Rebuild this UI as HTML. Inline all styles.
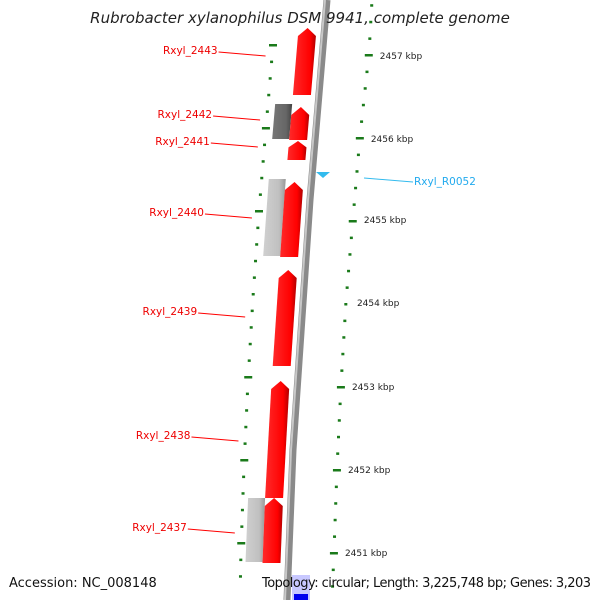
<!DOCTYPE html>
<html><head><meta charset="utf-8"><style>
body{margin:0;background:#fff}
svg{display:block;font-family:"DejaVu Sans","Liberation Sans",sans-serif}
</style></head><body>
<svg id="map" width="600" height="600" viewBox="0 0 600 600" xmlns="http://www.w3.org/2000/svg">
<defs>
<linearGradient id="red" x1="0" x2="1"><stop offset="0" stop-color="#ff2a2a"/><stop offset="0.75" stop-color="#ff0000"/><stop offset="1" stop-color="#b00000"/></linearGradient>
<linearGradient id="dg" x1="0" x2="1"><stop offset="0" stop-color="#777"/><stop offset="0.7" stop-color="#666"/><stop offset="1" stop-color="#444"/></linearGradient>
<linearGradient id="lg" x1="0" x2="1"><stop offset="0" stop-color="#d0d0d0"/><stop offset="0.7" stop-color="#c0c0c0"/><stop offset="1" stop-color="#999"/></linearGradient>
</defs>
<g id="tracks"></g>
<g id="genes"></g>
<text x="300" y="23" text-anchor="middle" font-size="15" font-style="italic" fill="#222">Rubrobacter xylanophilus DSM 9941, complete genome</text>
<text x="9" y="587" font-size="13" fill="#111">Accession: NC_008148</text>
<text x="262" y="587" font-size="13" fill="#111" textLength="329">Topology: circular; Length: 3,225,748 bp; Genes: 3,203</text>
</svg>
<script>
const geneNames=["Rxyl_2443","Rxyl_2442","Rxyl_2441","Rxyl_2440","Rxyl_2439","Rxyl_2438","Rxyl_2437"];
const geneTop=[28,107,141,182,270,381,498];
const geneBottom=[95,140,160,257,366,498,563];
const geneLabelY=[50,114,141,212,311,435,527];
const otherTop=[104,179,498];
const otherBottom=[139,256,562];
const otherShade=["dg","lg","lg"];
const kbpLabels=[2457,2456,2455,2454,2453,2452,2451];
const kbpY=[55,138,219,302,386,469,552];
const NS="http://www.w3.org/2000/svg";
function interp(pts,y){for(let i=0;i<pts.length-1;i++){if(y<=pts[i+1][0]||i==pts.length-2){const [y0,x0]=pts[i],[y1,x1]=pts[i+1];return x0+(x1-x0)*(y-y0)/(y1-y0);}}}
const bb=[[0,327],[200,310],[450,293],[600,287]];
const outer=[[0,372],[53,369],[136,360],[218,353],[301,346],[385,341],[468,337],[551,334],[600,332]];
const inner=[[0,277],[45,273],[127,266],[211,259],[297,253],[381,248],[466,244],[550,241],[600,240]];
const bx=y=>interp(bb,y);
function mk(tag,attrs,parent){const e=document.createElementNS(NS,tag);for(const k in attrs)e.setAttribute(k,attrs[k]);parent.appendChild(e);return e;}
const T=document.getElementById('tracks'),G=document.getElementById('genes');
// backbone
let d="";for(let y=0;y<=600;y+=10)d+=(y?"L":"M")+bx(y)+","+y;
const bl=mk('path',{d:d,stroke:'#8a8a8a','stroke-width':7,fill:'none'},T);


let d2="";for(let y=0;y<=600;y+=10)d2+=(y?"L":"M")+(bx(y)-2)+","+y;
mk('path',{d:d2,stroke:'#c8c8c8','stroke-width':2,fill:'none'},T);
// tick tracks
const step=(kbpY[1]-kbpY[0])/5;
for(let i=-1;i<kbpY.length*5+5;i++){
  const y=kbpY[0]+ (i)*step*(-1)*(-1);
  const yy=kbpY[0]-step*3+i*step;
  if(yy<0||yy>600)continue;
  const major=Math.abs(((yy-kbpY[0])/step)%5)<0.01;
  const ox=interp(outer,yy);
  const t=mk('rect',{x:ox-(major?4:1.5),y:yy-1,width:major?8:3,height:2.5,fill:'#1a7a1a'},T);
  
  
  const iy=yy-10;
  if(iy>30&&iy<600){const ix=interp(inner,iy);
  const t2=mk('rect',{x:ix-(major?4:1.5),y:iy-1,width:major?8:3,height:2.5,fill:'#1a7a1a'},T);
  
  }
}
kbpLabels.forEach((k,i)=>{const tx=mk('text',{x:interp(outer,kbpY[i])+11,y:kbpY[i]+4,'font-size':9,fill:'#222'},T);tx.textContent=k+" kbp";

});
// other strand genes
otherTop.forEach((t,i)=>{const b=otherBottom[i];
 const p=`${bx(t)-43},${t} ${bx(t)-26},${t} ${bx(b)-26},${b} ${bx(b)-43},${b}`;
 const g=mk('polygon',{points:p,fill:`url(#${otherShade[i]})`},G);
 
 });
// forward genes
geneTop.forEach((t,i)=>{const b=geneBottom[i];const h=Math.min(8,(b-t)/3);
 const l1=bx(t+h)-26,r1=bx(t+h)-8,l2=bx(b)-26,r2=bx(b)-8,mx=(bx(t)-17);
 const p=`${mx},${t} ${r1},${t+h} ${r2},${b} ${l2},${b} ${l1},${t+h}`;
 const g=mk('polygon',{points:p,fill:'url(#red)'},G);
 
 
 const ly=geneLabelY[i];const ex=interp(inner,ly)-7;
 mk('line',{x1:ex-47,y1:ly+2,x2:ex,y2:ly+6,stroke:'#f00','stroke-width':1},G);
 const tx=mk('text',{x:ex-48,y:ly+4,'font-size':10.5,fill:'#e00','text-anchor':'end'},G);tx.textContent=geneNames[i];
 
 });
// rRNA / tRNA marker
const tri=mk('polygon',{points:'316,172 330,172 323,178',fill:'#33bbee'},G);


mk('line',{x1:364,y1:178,x2:413,y2:182,stroke:'#33bbee','stroke-width':1},G);
const rt=mk('text',{x:414,y:185,'font-size':10.5,fill:'#22aaee'},G);rt.textContent="Rxyl_R0052";


// bottom blue
const b1=mk('rect',{x:292,y:575,width:18,height:25,fill:'#c8c8ff'},G);


mk('rect',{x:294,y:594,width:14,height:6,fill:'#0000ee'},G);
</script>
</body></html>
